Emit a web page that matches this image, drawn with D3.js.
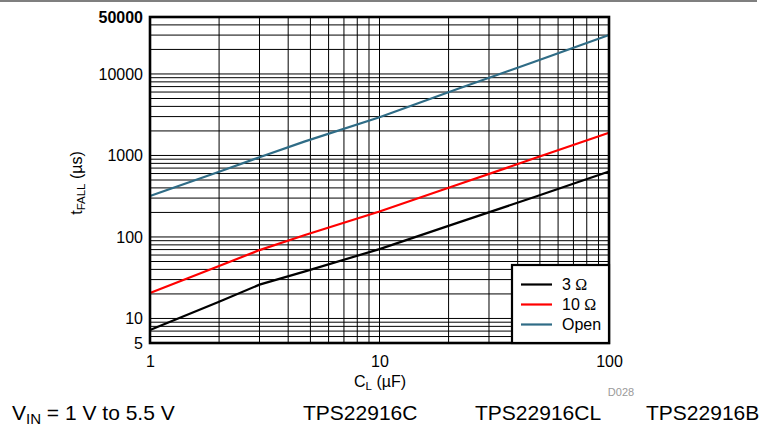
<!DOCTYPE html>
<html>
<head>
<meta charset="utf-8">
<script src="https://cdn.jsdelivr.net/npm/d3@7"></script>
<style>
  html, body { margin: 0; padding: 0; background: #fff; }
  svg { display: block; font-family: "Liberation Sans", Arial, sans-serif; }
</style>
</head>
<body>
<svg id="chart" width="763" height="427"></svg>
<script>
// Load capacitance C_L (µF)
const capValues = [1, 2, 3, 4.7, 10, 22, 47, 100];
// Fall time t_FALL (µs) per load resistance
const fall3Ohm  = [7.2, 16, 26, 37.6, 71, 150, 307, 635];
const fall10Ohm = [20.5, 44, 69, 105, 205, 440, 916, 1900];
const fallOpen  = [318, 630, 950, 1480, 2950, 6600, 14000, 30000];

const seriesNames  = ["3 Ω", "10 Ω", "Open"];
const seriesColors = ["#000000", "#ff0000", "#2f6c86"];
const seriesData   = [fall3Ohm, fall10Ohm, fallOpen];

const xTickLabels = [1, 10, 100];
const yTickLabels = [5, 10, 100, 1000, 10000, 50000];

const svg = d3.select("#chart");
const plotL = 150, plotR = 609, plotT = 17, plotB = 343;

const x = d3.scaleLog().domain([1, 100]).range([plotL, plotR]);
const y = d3.scaleLog().domain([5, 50000]).range([plotB, plotT]);

// Decade grid: every 1..9 multiple inside the domain
const xGrid = [];
for (const d of [1, 10]) for (let m = 1; m <= 9; m++) { const v = d * m; if (v > 1 && v < 100) xGrid.push(v); }
const yGrid = [];
for (const d of [1, 10, 100, 1000, 10000]) for (let m = 1; m <= 9; m++) { const v = d * m; if (v > 5 && v < 50000) yGrid.push(v); }

// Header rule
svg.append("line").attr("x1", 0).attr("x2", 757).attr("y1", 1).attr("y2", 1)
  .attr("stroke", "#000").attr("stroke-width", 1.2);

const grid = svg.append("g");
grid.selectAll("line.v").data(xGrid).join("line").attr("class", "v")
  .attr("x1", d => x(d)).attr("x2", d => x(d)).attr("y1", plotT).attr("y2", plotB)
  .attr("stroke", "#000").attr("stroke-width", 1);
grid.selectAll("line.h").data(yGrid).join("line").attr("class", "h")
  .attr("y1", d => y(d)).attr("y2", d => y(d)).attr("x1", plotL).attr("x2", plotR)
  .attr("stroke", "#000").attr("stroke-width", 1);

// Curves
const line = d3.line().x(d => x(d[0])).y(d => y(d[1]));
seriesData.forEach((vals, i) => {
  svg.append("path")
    .datum(capValues.map((c, j) => [c, vals[j]]))
    .attr("d", line)
    .attr("fill", "none")
    .attr("stroke", seriesColors[i])
    .attr("stroke-width", 2.2);
});

// Frame
svg.append("rect").attr("x", plotL).attr("y", plotT).attr("width", plotR - plotL).attr("height", plotB - plotT)
  .attr("fill", "none").attr("stroke", "#000").attr("stroke-width", 2.6);

// Axes labels
const yAxis = d3.axisLeft(y).tickValues(yTickLabels).tickFormat(d3.format("d")).tickSize(0).tickPadding(7);
const gy = svg.append("g").attr("transform", `translate(${plotL},0)`).call(yAxis);
gy.select(".domain").remove();
gy.selectAll("text").attr("font-size", 16).attr("fill", "#000")
  .attr("font-family", "Liberation Sans, Arial, sans-serif")
  .attr("font-weight", d => d === 50000 ? "bold" : "normal");

const xAxis = d3.axisBottom(x).tickValues(xTickLabels).tickFormat(d3.format("d")).tickSize(0).tickPadding(13);
const gx = svg.append("g").attr("transform", `translate(0,${plotB})`).call(xAxis);
gx.select(".domain").remove();
gx.selectAll("text").attr("font-size", 16).attr("fill", "#000")
  .attr("font-family", "Liberation Sans, Arial, sans-serif");

// Axis titles
const xt = svg.append("text").attr("x", 380).attr("y", 387).attr("text-anchor", "middle")
  .attr("font-size", 16);
xt.append("tspan").text("C");
xt.append("tspan").attr("font-size", 11.5).attr("dy", 3).text("L");
xt.append("tspan").attr("dy", -3).text(" (µF)");

const yt = svg.append("text").attr("transform", "translate(82,183) rotate(-90)")
  .attr("text-anchor", "middle").attr("font-size", 16);
yt.append("tspan").text("t");
yt.append("tspan").attr("font-size", 11.5).attr("dy", 3).text("FALL");
yt.append("tspan").attr("dy", -3).text(" (µs)");

// Legend
const lg = svg.append("g");
lg.append("rect").attr("x", 512).attr("y", 265).attr("width", plotR - 512).attr("height", plotB - 265)
  .attr("fill", "#fff").attr("stroke", "#000").attr("stroke-width", 2.2);
seriesNames.forEach((name, i) => {
  const ly = 284.5 + i * 20;
  lg.append("line").attr("x1", 521).attr("x2", 552).attr("y1", ly).attr("y2", ly)
    .attr("stroke", seriesColors[i]).attr("stroke-width", 2.2);
  const t = lg.append("text").attr("x", 562).attr("y", ly + 5.5).attr("font-size", 16);
  // Ohm sign set in a serif face
  name.split(/(Ω)/).filter(s => s).forEach(part => {
    const sp = t.append("tspan").text(part);
    if (part === "Ω") sp.attr("font-family", "Liberation Serif, Times New Roman, serif");
  });
});

// Figure id
svg.append("text").attr("x", 621).attr("y", 396).attr("text-anchor", "middle")
  .attr("font-size", 11).attr("fill", "#9a9a9a").text("D028");

// Footer
const vin = svg.append("text").attr("x", 12).attr("y", 420).attr("font-size", 21);
vin.append("tspan").text("V");
vin.append("tspan").attr("font-size", 15).attr("dy", 4).text("IN");
vin.append("tspan").attr("dy", -4).text(" = 1 V to 5.5 V");

[["TPS22916C", 303], ["TPS22916CL", 475], ["TPS22916B", 646]].forEach(([t, px]) => {
  svg.append("text").attr("x", px).attr("y", 420).attr("font-size", 21).text(t);
});
</script>
</body>
</html>
